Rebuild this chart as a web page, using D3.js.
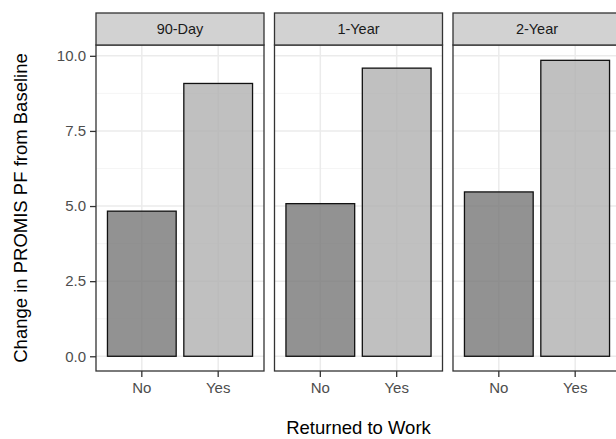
<!DOCTYPE html>
<html>
<head>
<meta charset="utf-8">
<script src="https://cdn.jsdelivr.net/npm/d3@7/dist/d3.min.js"></script>
<style>
  html, body { margin: 0; padding: 0; background: #fff; }
  svg { display: block; font-family: "Liberation Sans", Arial, sans-serif; }
</style>
</head>
<body>
<svg id="chart" width="616" height="439"></svg>
<script>
// Facets, groups and mean change values
const timepoints = ["90-Day", "1-Year", "2-Year"];
const returned = ["No", "Yes"];
const changeNo = [4.83, 5.08, 5.47];
const changeYes = [9.08, 9.59, 9.85];
const yTicks = [0, 2.5, 5, 7.5, 10];
const yMinor = [1.25, 3.75, 6.25, 8.75];

const svg = d3.select("#chart");

const panelLeft = 96, panelW = 168, panelGap = 10.5;
const stripTop = 13, stripBottom = 45, panelBottom = 371;

const y = d3.scaleLinear().domain([-0.49, 10.36]).range([panelBottom, stripBottom]);
const x = d3.scaleBand().domain(returned).range([0, panelW])
  .paddingInner(0.1).paddingOuter(0.15);
const fill = d3.scaleOrdinal().domain(returned).range(["#777777", "#b0b0b0"]);

const fmt = d3.format(".1f");

timepoints.forEach((tp, i) => {
  const g = svg.append("g")
    .attr("transform", `translate(${panelLeft + i * (panelW + panelGap)},0)`);
  const data = [
    { key: "No", value: changeNo[i] },
    { key: "Yes", value: changeYes[i] }
  ];

  // minor grid
  g.selectAll(".minor").data(yMinor).join("line")
    .attr("x1", 0).attr("x2", panelW)
    .attr("y1", d => y(d)).attr("y2", d => y(d))
    .attr("stroke", "#f2f2f2").attr("stroke-width", 0.8);
  // major grid
  g.selectAll(".major").data(yTicks).join("line")
    .attr("x1", 0).attr("x2", panelW)
    .attr("y1", d => y(d)).attr("y2", d => y(d))
    .attr("stroke", "#ebebeb").attr("stroke-width", 1.5);
  g.selectAll(".vmajor").data(returned).join("line")
    .attr("x1", d => x(d) + x.bandwidth() / 2).attr("x2", d => x(d) + x.bandwidth() / 2)
    .attr("y1", stripBottom).attr("y2", panelBottom)
    .attr("stroke", "#ebebeb").attr("stroke-width", 1.5);

  // bars
  g.selectAll(".bar").data(data).join("rect")
    .attr("x", d => x(d.key))
    .attr("width", x.bandwidth())
    .attr("y", d => y(d.value))
    .attr("height", d => y(0) - y(d.value))
    .attr("fill", d => fill(d.key))
    .attr("fill-opacity", 0.8)
    .attr("stroke", "#111")
    .attr("stroke-width", 1.3);

  // panel border
  g.append("rect")
    .attr("x", 0).attr("y", stripBottom)
    .attr("width", panelW).attr("height", panelBottom - stripBottom)
    .attr("fill", "none").attr("stroke", "#333").attr("stroke-width", 1.3);

  // strip
  g.append("rect")
    .attr("x", 0).attr("y", stripTop)
    .attr("width", panelW).attr("height", stripBottom - stripTop)
    .attr("fill", "#d2d2d2").attr("stroke", "#333").attr("stroke-width", 1.3);
  g.append("text")
    .attr("x", panelW / 2).attr("y", (stripTop + stripBottom) / 2 + 5)
    .attr("text-anchor", "middle")
    .attr("font-size", 14.5).attr("fill", "#1a1a1a")
    .text(tp);

  // x axis
  const xAxis = g.append("g")
    .attr("transform", `translate(0,${panelBottom})`)
    .call(d3.axisBottom(x).tickSize(6).tickPadding(5));
  xAxis.select(".domain").remove();
  xAxis.selectAll(".tick line").attr("stroke", "#333").attr("stroke-width", 1.3);
  xAxis.selectAll(".tick text")
    .attr("font-size", 15).attr("fill", "#4d4d4d")
    .attr("font-family", "Liberation Sans, Arial, sans-serif");

  // y axis on the first panel only
  if (i === 0) {
    const yAxis = g.append("g")
      .call(d3.axisLeft(y).tickValues(yTicks).tickFormat(fmt).tickSize(6).tickPadding(4));
    yAxis.select(".domain").remove();
    yAxis.selectAll(".tick line").attr("stroke", "#333").attr("stroke-width", 1.3);
    yAxis.selectAll(".tick text")
      .attr("font-size", 15).attr("fill", "#4d4d4d")
      .attr("font-family", "Liberation Sans, Arial, sans-serif");
  }
});

// axis titles
svg.append("text")
  .attr("x", panelLeft + (3 * panelW + 2 * panelGap) / 2)
  .attr("y", 434)
  .attr("text-anchor", "middle")
  .attr("font-size", 18.5).attr("fill", "#000")
  .text("Returned to Work");

svg.append("text")
  .attr("transform", `translate(27,${(stripBottom + panelBottom) / 2}) rotate(-90)`)
  .attr("text-anchor", "middle")
  .attr("font-size", 18.5).attr("fill", "#000")
  .text("Change in PROMIS PF from Baseline");
</script>
</body>
</html>
